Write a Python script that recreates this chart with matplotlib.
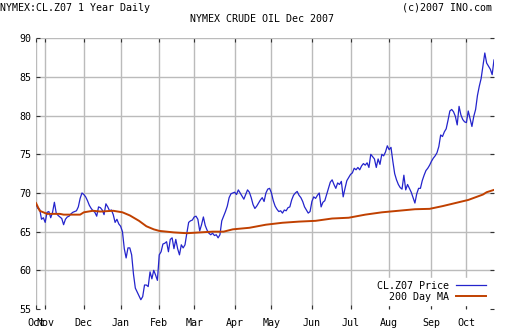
import matplotlib
matplotlib.use('Agg')
import matplotlib.pyplot as plt
import numpy as np
import pandas as pd

# trading calendar of the chart (NYMEX holidays dropped)
start_day = '2006-10-25'
holidays = ['2006-11-23', '2006-12-25', '2007-01-01', '2007-01-15',
            '2007-02-19', '2007-04-06', '2007-05-28', '2007-07-04', '2007-09-03']

# daily settle, CL.Z07
price = [
    68.6, 68.0, 67.9, 66.6, 66.8, 66.2, 67.5, 67.6, 66.8, 67.5,
    68.8, 67.4, 67.1, 66.9, 66.7, 65.9, 66.6, 66.9, 67.0, 67.3,
    67.5, 67.6, 67.7, 68.2, 69.3, 70.0, 69.8, 69.5, 69.0, 68.4,
    68.0, 67.7, 67.5, 67.0, 68.2, 68.1, 67.8, 67.2, 68.6, 68.2,
    67.7, 67.8, 67.2, 66.2, 66.6, 66.0, 65.7, 65.0, 62.8, 61.6,
    62.9, 62.9, 62.0, 59.5, 57.7, 57.2, 56.7, 56.2, 56.6, 58.1,
    58.1, 57.9, 59.8, 58.9, 60.0, 59.4, 58.7, 62.0, 62.4, 63.4,
    63.5, 63.7, 62.4, 64.0, 64.2, 62.8, 64.0, 62.8, 62.0, 63.3,
    62.9, 63.3, 64.8, 66.2, 66.4, 66.5, 66.9, 67.0, 66.6, 65.1,
    65.9, 66.9, 65.8, 65.2, 64.8, 64.6, 64.8, 64.5, 64.6, 64.2,
    64.6, 66.4, 67.0, 67.6, 68.3, 69.4, 69.9, 70.0, 70.1, 69.8,
    70.4, 70.0, 69.6, 69.2, 69.8, 70.4, 70.1, 69.4, 68.5, 68.0,
    68.3, 68.7, 69.1, 69.4, 68.9, 70.0, 70.5, 70.6, 70.0, 69.0,
    68.3, 67.9, 67.6, 67.7, 67.4, 67.8, 67.7, 68.1, 68.2, 69.1,
    69.7, 70.0, 70.2, 69.7, 69.4, 68.9, 68.2, 67.8, 67.4, 67.6,
    68.9, 69.5, 69.3, 69.7, 70.0, 68.2, 68.8, 69.0, 69.8, 70.6,
    71.4, 71.7, 71.1, 70.6, 71.3, 71.1, 71.5, 69.5, 70.6, 71.6,
    72.0, 72.4, 72.6, 73.2, 73.0, 73.3, 73.0, 73.5, 73.8, 73.6,
    73.9, 73.3, 75.0, 74.7, 74.4, 73.3, 74.4, 73.7, 75.0, 74.8,
    75.3, 76.1, 75.6, 75.9, 74.1, 72.5, 71.7, 71.1, 70.7, 70.5,
    72.3, 70.4, 71.1, 70.6, 70.1, 69.4, 68.7, 69.9, 70.6, 70.6,
    71.6, 72.3, 72.9, 73.2, 73.6, 74.1, 74.5, 74.8, 75.2, 76.0,
    77.5, 77.3, 77.9, 78.3, 79.4, 80.6, 80.8, 80.5, 79.9, 78.8,
    81.2, 80.1, 79.5, 79.2, 79.1, 80.6, 79.6, 78.6, 79.9, 80.8,
    82.6, 83.8, 84.8, 86.5, 88.1, 86.8, 86.4, 86.0, 85.3, 87.2,
]

# 200 day moving average, sampled at trading-day numbers
ma_day = [0, 2, 6, 13, 15, 24, 26, 31, 35, 42, 47, 51, 56, 60, 64, 67, 75, 82,
          89, 96, 102, 107, 116, 125, 134, 143, 152, 161, 170, 179, 188, 197,
          206, 214, 221, 228, 235, 243, 245, 249]
ma_value = [68.7, 67.7, 67.3, 67.3, 67.2, 67.2, 67.5, 67.7, 67.6, 67.7, 67.5, 67.1,
            66.4, 65.7, 65.3, 65.1, 64.9, 64.8, 64.9, 65.0, 65.0, 65.3, 65.5, 65.9,
            66.15, 66.3, 66.4, 66.7, 66.8, 67.2, 67.5, 67.7, 67.9, 67.95, 68.3,
            68.7, 69.1, 69.8, 70.1, 70.4]

price_label = 'CL.Z07 Price'
ma_label = '200 Day MA'

cbd = pd.offsets.CustomBusinessDay(holidays=holidays)
dates = pd.date_range(start_day, periods=len(price), freq=cbd)
x = np.arange(len(price))

# month gridlines: first trading day of every month (plus the first day)
month_pos = [0] + [i for i in range(1, len(dates)) if dates[i].month != dates[i - 1].month]
month_lab = [dates[i].strftime('%b') for i in month_pos]

W, H = 512, 336
fig = plt.figure(figsize=(W / 100, H / 100), dpi=100)
fig.patch.set_facecolor('white')
ax = fig.add_axes([36 / W, 1 - 309 / H, (494 - 36) / W, (309 - 38.3) / H])

mono = 'DejaVu Sans Mono'
fs = 7.2

ax.plot(x, price, color='#2424cc', lw=0.9, label=price_label, zorder=3)
ax.plot(ma_day, ma_value, color='#c04000', lw=1.4, label=ma_label, zorder=3)

ax.set_xlim(0, len(price) - 1)
ax.set_ylim(55, 90)
ax.set_yticks(np.arange(55, 91, 5))
ax.set_xticks(month_pos)
ax.set_xticklabels(month_lab, family=mono, fontsize=fs)
for t in ax.get_yticklabels():
    t.set_family(mono)
    t.set_fontsize(fs)

for s in ax.spines.values():
    s.set_visible(False)
ax.grid(True, color='#bbbbbb', lw=1.0, zorder=1)
ax.yaxis.get_gridlines()[0].set_visible(False)
ax.tick_params(axis='x', direction='in', top=True, bottom=True, length=3,
               width=0.8, color='#333333', pad=6.5)
ax.tick_params(axis='y', direction='in', left=True, right=True, length=3,
               width=0.8, color='#333333', pad=3.5)

leg = ax.legend(loc='lower right', bbox_to_anchor=(0.99, 0.015), markerfirst=False,
                prop={'family': mono, 'size': fs}, handlelength=3.0,
                handletextpad=0.7, labelspacing=0.1, borderpad=0.3,
                borderaxespad=0, frameon=True, fancybox=False)
leg.get_frame().set_facecolor('white')
leg.get_frame().set_edgecolor('white')
leg.get_frame().set_alpha(1)

fig.text(0, 1 - 8 / H, 'NYMEX:CL.Z07 1 Year Daily', family=mono, fontsize=fs,
         ha='left', va='center')
fig.text(492 / W, 1 - 8 / H, '(c)2007 INO.com', family=mono, fontsize=fs,
         ha='right', va='center')
fig.text(262 / W, 1 - 18.5 / H, 'NYMEX CRUDE OIL Dec 2007', family=mono,
         fontsize=fs, ha='center', va='center')

plt.savefig('out.png', dpi=100)
